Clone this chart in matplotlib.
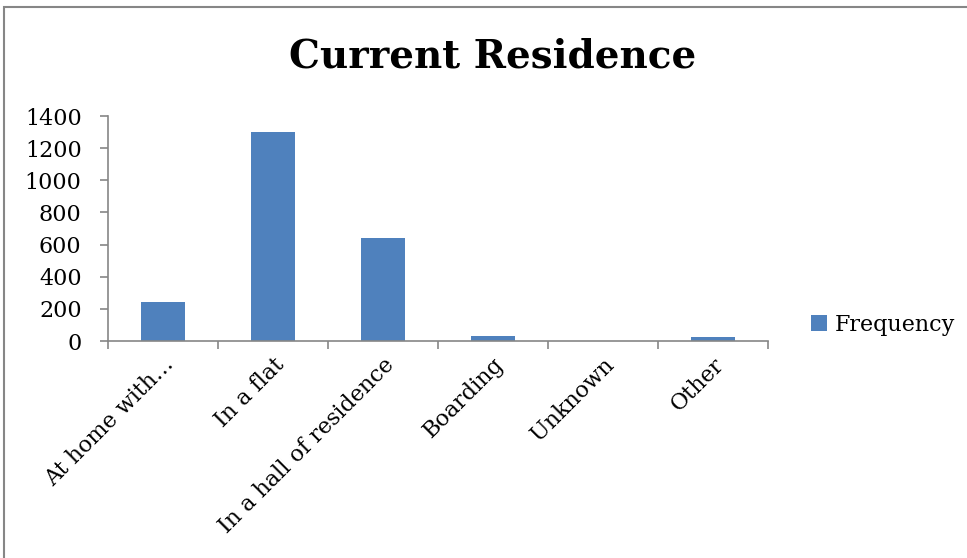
import matplotlib
matplotlib.use("Agg")
import matplotlib.pyplot as plt
from matplotlib.patches import Rectangle

categories = ["At home with…", "In a flat", "In a hall of residence", "Boarding", "Unknown", "Other"]
frequency = [240, 1300, 640, 30, 0, 28]
yticks = [0, 200, 400, 600, 800, 1000, 1200, 1400]

plt.rcParams["font.family"] = ["DejaVu Serif"]
bar_color = "#4F81BD"
axis_color = "#868686"

fig = plt.figure(figsize=(9.67, 5.58), dpi=100)
ax = fig.add_axes([108 / 967, 1 - 341 / 558, 660 / 967, 225 / 558])

x = list(range(len(categories)))
ax.bar(x, frequency, width=0.4, color=bar_color, label="Frequency", zorder=2)
ax.set_xlim(-0.5, len(categories) - 0.5)
ax.set_ylim(0, 1400)
ax.set_yticks(yticks)
ax.set_yticklabels([str(v) for v in yticks], fontsize=16)

for s in ["top", "right"]:
    ax.spines[s].set_visible(False)
for s in ["left", "bottom"]:
    ax.spines[s].set_color(axis_color)
    ax.spines[s].set_linewidth(1.2)

# category boundary ticks
ax.set_xticks([i + 0.5 for i in range(-1, len(categories))])
ax.set_xticklabels([])
ax.tick_params(axis="x", direction="out", length=6, color=axis_color, width=1.2)
ax.tick_params(axis="y", direction="out", length=6, color=axis_color, width=1.2, pad=13)

# category names centred under each bar
ax.set_xticks(x, minor=True)
ax.set_xticklabels(categories, minor=True, rotation=45, ha="right", va="top",
                   rotation_mode="anchor", fontsize=16)
ax.tick_params(axis="x", which="minor", length=0, pad=9)

fig.text(493 / 967, 1 - 57 / 558, "Current Residence", ha="center", va="center",
         fontsize=28, fontweight="bold")

ax.legend(loc="center left", bbox_to_anchor=(791 / 967, 1 - 325 / 558),
          bbox_transform=fig.transFigure, frameon=False, fontsize=16,
          handlelength=0.7, handleheight=0.7, handletextpad=0.35)

# outer chart frame
fig.patches.append(Rectangle((4 / 967, -0.05), 1.1, 1 - 7 / 558 + 0.05,
                             transform=fig.transFigure, fill=False,
                             edgecolor=axis_color, linewidth=1.5))

fig.savefig("out.png", dpi=100)
